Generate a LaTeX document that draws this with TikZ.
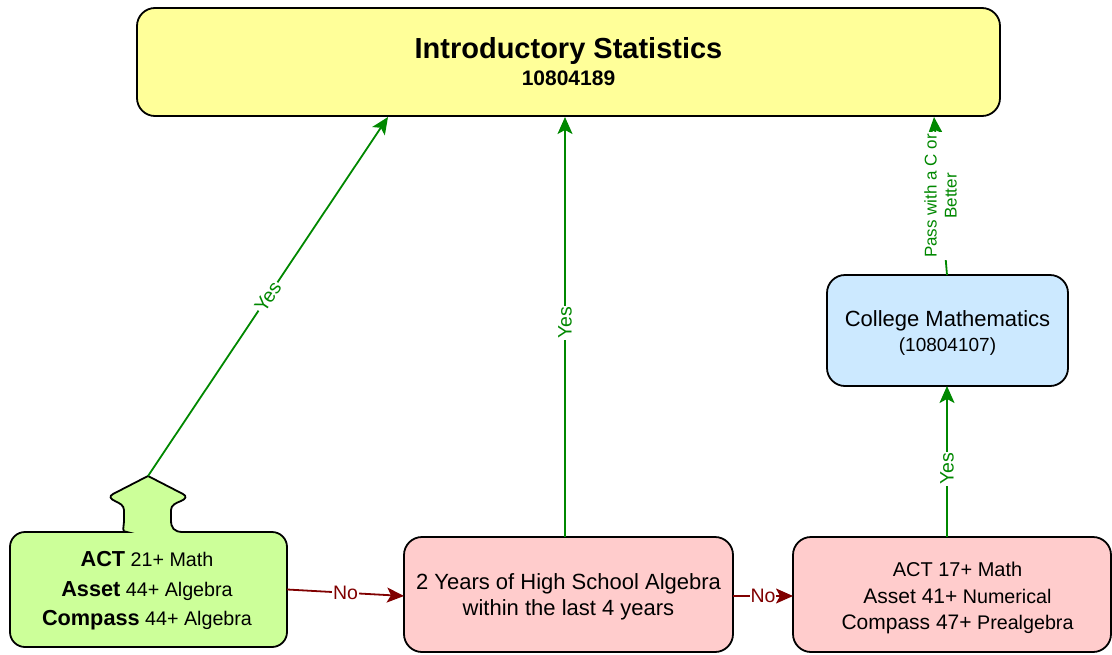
\documentclass[tikz,border=0pt]{standalone}
\usepackage{fontspec}
\setmainfont{Liberation Sans}
\usetikzlibrary{arrows.meta,calc}
\definecolor{ylw}{HTML}{FFFF99}
\definecolor{blu}{HTML}{CCE9FF}
\definecolor{grnf}{HTML}{CCFF99}
\definecolor{pnk}{HTML}{FFCCCC}
\definecolor{gline}{HTML}{008800}
\definecolor{rline}{HTML}{800000}
\newcommand\fz[2]{{\fontsize{#1}{#1}\selectfont #2}}
\begin{document}
\begin{tikzpicture}[x=1pt,y=-1pt,
  box/.style={draw=black,line width=1.8pt,rounded corners=18pt,align=center,inner sep=0pt},
  txt/.style={align=center,inner sep=0pt},
  tip/.style={-{Stealth[length=17pt,width=15pt,inset=4pt]}},
  yesline/.style={draw=gline,line width=1.8pt,tip},
  noline/.style={draw=rline,line width=1.8pt,tip},
  yeslbl/.style={fill=white,text=gline,font=\fontsize{19.5}{20}\selectfont,inner sep=1pt},
  nolbl/.style={fill=white,text=rline,font=\fontsize{19.5}{20}\selectfont,inner sep=1pt}]
\useasboundingbox (0,0) rectangle (1112,654);

% top box
\node[box,fill=ylw,minimum width=863pt,minimum height=108pt] (top) at (568.5,62) {};
\node[txt,anchor=base,font=\bfseries\fontsize{29}{30}\selectfont] (title) at (568.5,58.5) {Introductory Statistics};
\node[txt,anchor=base,font=\bfseries\fontsize{21}{22}\selectfont] (code) at (568.5,85.5) {10804189};

% college mathematics
\node[box,fill=blu,minimum width=241pt,minimum height=111pt] (coll) at (947.5,330.5) {};
\node[txt,font=\fontsize{22}{25}\selectfont] (colltxt) at (947.5,332.5)
  {College Mathematics\\\fz{19}{(10804107)}};

% green box with tab
\path[draw=black,line width=1.8pt,fill=grnf]
  (10,590) [rounded corners=15pt] -- (10,532) -- (112,532) [sharp corners]
  .. controls (121,532) and (124,528) .. (124,520) -- (124,510)
  .. controls (124,505) and (119,503) .. (115,501)
  .. controls (110,499) and (109,496) .. (113,494) -- (148,476) -- (183,494)
  .. controls (187,496) and (186,499) .. (181,501)
  .. controls (176,503) and (171,505) .. (171,510) -- (171,520)
  .. controls (171,528) and (174,532) .. (183,532) [rounded corners=15pt]
  -- (287,532) -- (287,647) -- (10,647) -- cycle;
\coordinate (tabtip) at (148,476);
\node[txt,minimum width=277pt,minimum height=115pt] (grn) at (148.5,589.5) {};
\node[txt,font=\fontsize{19.7}{29.5}\selectfont] (grntxt) at (147,591)
  {\fz{21.7}{\bfseries ACT} 21+ Math\\\fz{21.7}{\bfseries Asset} 44+ Algebra\\\fz{21.7}{\bfseries Compass} 44+ Algebra};

% middle pink
\node[box,fill=pnk,minimum width=329pt,minimum height=115pt] (mid) at (568.5,594.5) {};
\node[txt,font=\fontsize{22}{26}\selectfont] (midtxt) at (568.5,596.5)
  {2 Years of High School Algebra\\within the last 4 years};

% right pink
\node[box,fill=pnk,minimum width=318pt,minimum height=115pt] (rgt) at (952,594.5) {};
\node[txt,font=\fontsize{19.7}{26.5}\selectfont] (rgttxt) at (957.5,598)
  {\fz{20}{ACT 17+ Math}\\\fz{21}{Asset 41+} Numerical\\\fz{21}{Compass 47+} Prealgebra};

% coordinates
\coordinate (t1) at (388,117);
\coordinate (m2b) at (565,537);
\coordinate (t2) at (565,117);
\coordinate (t3) at (934,117);
\coordinate (cb) at (947,386);
\coordinate (rt) at (947,537);
\coordinate (cn) at (947,275);
\coordinate (mw) at (404,596);
\coordinate (me) at (733,596);
\coordinate (rw) at (793,596);

% connectors
\draw[yesline] (tabtip) -- node[yeslbl,sloped] {Yes} (t1);
\draw[yesline] (m2b) -- node[yeslbl,sloped,pos=0.51] {Yes} (t2);
\draw[yesline] (rt) -- node[yeslbl,sloped,pos=0.45] {Yes} (cb);
\draw[yesline] (cn) -- node[fill=white,text=gline,inner sep=2pt,rotate=90,align=center,
  font=\fontsize{17}{20}\selectfont,pos=0.5] {Pass with a C or\\Better} (t3);
\draw[noline] (grn.east) -- node[nolbl] {No} (mw);
\draw[noline] (me) -- node[nolbl] {No} (rw);
\end{tikzpicture}
\end{document}
